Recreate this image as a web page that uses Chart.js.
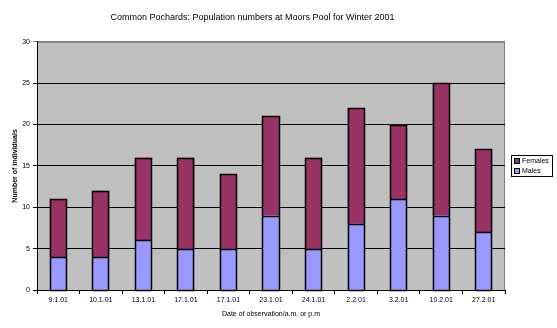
<!DOCTYPE html>
<html>
<head>
<meta charset="utf-8">
<style>
  html, body { margin: 0; padding: 0; background: #fff; }
  #wrap { width: 557px; height: 328px; position: relative; }
</style>
<script src="https://cdn.jsdelivr.net/npm/chart.js@4/dist/chart.umd.min.js"></script>
</head>
<body>
<div id="wrap"><canvas id="chart" width="557" height="328"></canvas></div>
<script>
// Observation dates
const dates = ['9.1.01', '10.1.01', '13.1.01', '17.1.01', '17.1.01', '23.1.01',
               '24.1.01', '2.2.01', '3.2.01', '10.2.01', '27.2.01'];
// Counts per sex
const males   = [4, 4, 6, 5, 5, 9, 5, 8, 11, 9, 7];
const females = [7, 8, 10, 11, 9, 12, 11, 14, 9, 16, 10];
const yTicks = [0, 5, 10, 15, 20, 25, 30];

const FONT = '"Liberation Sans", Arial, sans-serif';

// grey plot background + frame
const plotBg = {
  id: 'plotBg',
  beforeDraw(chart) {
    const { ctx, chartArea: a } = chart;
    ctx.save();
    ctx.fillStyle = '#c0c0c0';
    ctx.fillRect(a.left, a.top, a.right - a.left, a.bottom - a.top);
    ctx.strokeStyle = '#808080';
    ctx.lineWidth = 1;
    ctx.strokeRect(a.left + 0.5, a.top + 0.5, a.right - a.left - 1, a.bottom - a.top);
    ctx.restore();
  }
};

// black outline round every stacked bar and the split between the two parts
const barOutline = {
  id: 'barOutline',
  afterDatasetsDraw(chart) {
    const { ctx } = chart;
    const xs = chart.scales.x, ys = chart.scales.y;
    const half = xs.width / dates.length * 0.2;
    ctx.save();
    ctx.strokeStyle = '#000000';
    ctx.lineWidth = 1.5;
    ctx.beginPath();
    dates.forEach((d, i) => {
      const cx = xs.getPixelForValue(i);
      const l = Math.round(cx - half) + 0.5;
      const r = Math.round(cx + half) - 0.5;
      const y0 = Math.round(ys.getPixelForValue(0)) + 0.5;
      const y1 = Math.round(ys.getPixelForValue(males[i])) + 0.5;
      const y2 = Math.round(ys.getPixelForValue(males[i] + females[i])) + 0.5;
      ctx.rect(l, y2, r - l, y0 - y2);
      ctx.moveTo(l, y1);
      ctx.lineTo(r, y1);
    });
    ctx.stroke();
    ctx.restore();
  }
};

// boxed legend on the right, Females first
const boxLegend = {
  id: 'boxLegend',
  afterDraw(chart) {
    const { ctx } = chart;
    const x = 511, y = 155, w = 41, h = 21;
    ctx.save();
    ctx.fillStyle = '#fff';
    ctx.fillRect(x, y, w, h);
    ctx.strokeStyle = '#000';
    ctx.lineWidth = 1;
    ctx.strokeRect(x + 0.5, y + 0.5, w, h);
    const items = chart.data.datasets.slice().reverse();
    ctx.font = '7px ' + FONT;
    ctx.textBaseline = 'middle';
    items.forEach((ds, i) => {
      const cy = y + 6 + i * 10;
      ctx.fillStyle = ds.backgroundColor;
      ctx.fillRect(x + 3.5, cy - 2.5, 5, 5);
      ctx.strokeRect(x + 3.5, cy - 2.5, 5, 5);
      ctx.fillStyle = '#000';
      ctx.fillText(ds.label, x + 11, cy + 0.5);
    });
    ctx.restore();
  }
};

new Chart(document.getElementById('chart'), {
  type: 'bar',
  data: {
    labels: dates,
    datasets: [
      { label: 'Males', data: males, backgroundColor: '#9999ff', borderWidth: 0 },
      { label: 'Females', data: females, backgroundColor: '#993366', borderWidth: 0 }
    ]
  },
  options: {
    responsive: false,
    animation: false,
    events: [],
    layout: { padding: { left: 0, right: 52, top: 0, bottom: 0 } },
    datasets: { bar: { barPercentage: 0.8, categoryPercentage: 0.5 } },
    plugins: {
      legend: { display: false },
      tooltip: { enabled: false },
      title: {
        display: true,
        text: 'Common Pochards: Population numbers at Moors Pool for Winter 2001',
        color: '#000',
        font: { family: FONT, size: 9, weight: 'normal' },
        padding: { top: 12, bottom: 19 }
      }
    },
    scales: {
      x: {
        stacked: true,
        offset: true,
        grid: { drawOnChartArea: false, offset: true, color: '#000', tickLength: 4 },
        border: { color: '#000' },
        ticks: { color: '#000', font: { family: FONT, size: 7 }, padding: 2,
                 maxRotation: 0, autoSkip: false },
        title: { display: true, text: 'Date of observation/a.m. or p.m',
                 color: '#000', font: { family: FONT, size: 7 }, padding: { top: 4, bottom: 10 } },
        afterFit(s) { s.height = 38; }
      },
      y: {
        stacked: true,
        min: 0, max: 30,
        afterBuildTicks(s) { s.ticks = yTicks.map(v => ({ value: v })); },
        grid: {
          color: c => c.tick && c.tick.value === 30 ? '#808080' : '#000',
          tickLength: 4
        },
        border: { color: '#000' },
        ticks: { color: '#000', font: { family: FONT, size: 7 }, padding: 3 },
        title: { display: true, text: 'Number of individuals', color: '#000',
                 font: { family: FONT, size: 7, weight: 'bold' }, padding: { top: 11, bottom: 0 } },
        afterFit(s) { s.width = 37; }
      }
    }
  },
  plugins: [plotBg, barOutline, boxLegend]
});
</script>
</body>
</html>
